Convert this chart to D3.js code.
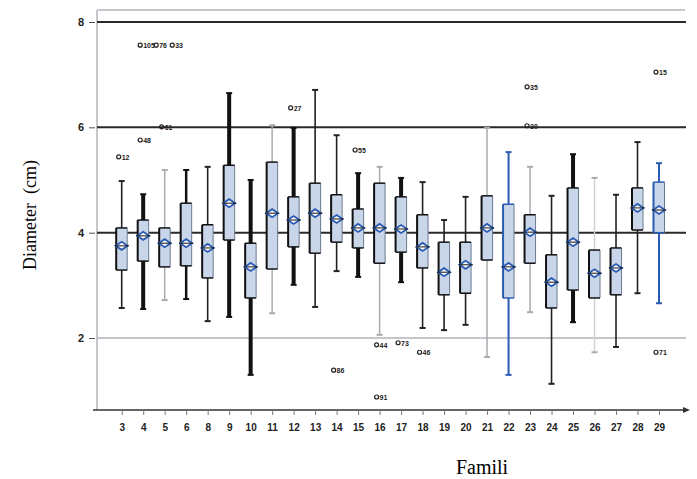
<!DOCTYPE html>
<html><head><meta charset="utf-8">
<script src="https://cdn.jsdelivr.net/npm/d3@7/dist/d3.min.js"></script>
<style>body{margin:0;background:#fff}svg{display:block}</style>
</head><body><svg id="c" width="697" height="479"></svg>
<script>
const categories = ["3","4","5","6","8","9","10","11","12","13","14","15","16","17","18","19","20","21","22","23","24","25","26","27","28","29"];
const whiskerTop = [4.98,4.73,5.19,5.19,5.25,6.65,5.00,6.04,5.99,6.71,5.85,5.13,5.25,5.04,4.96,4.24,4.68,5.99,5.53,5.25,4.70,5.49,5.04,4.72,5.72,5.32];
const q3 =         [4.09,4.24,4.09,4.56,4.15,5.28,3.80,5.34,4.68,4.94,4.72,4.45,4.94,4.68,4.34,3.82,3.82,4.70,4.54,4.34,3.58,4.85,3.67,3.71,4.85,4.96];
const medians =    [3.75,3.94,3.80,3.80,3.71,4.56,3.35,4.37,4.24,4.37,4.26,4.09,4.09,4.07,3.73,3.25,3.39,4.09,3.35,4.01,3.06,3.82,3.23,3.33,4.47,4.43];
const q1 =         [3.29,3.46,3.35,3.37,3.14,3.86,2.76,3.31,3.73,3.61,3.82,3.71,3.42,3.63,3.33,2.82,2.85,3.48,2.76,3.42,2.57,2.91,2.76,2.82,4.05,4.00];
const whiskerBot = [2.57,2.55,2.72,2.74,2.32,2.40,1.30,2.47,3.01,2.59,3.27,3.16,2.06,3.06,2.19,2.15,2.25,1.64,1.30,2.49,1.13,2.30,1.73,1.83,2.85,2.66];
// outliers: [category index, value, case label]
const outlierCat =   [0,1,1,1,1,2,8,10,11,12,12,13,14,19,19,25,25];
const outlierVal =   [5.44,5.76,7.56,7.56,7.56,6.01,6.37,1.39,5.57,1.87,0.88,1.91,1.73,6.77,6.03,7.05,1.73];
const outlierLabel = ["12","48","105","76","33","61","27","86","55","44","91","73","46","35","30","15","71"];
const yTicks = [2,4,6,8];
// whisker drawing kind per category (style key)
const whiskerKind = ["black","thick","gray","med","black","thick","thick","gray","thick","black","black","thick","gray","thick","black","black","black","gray","blue","gray","black","thick","light","black","black","blue"];

const svg = d3.select("#c");
const x = d3.scalePoint().domain(categories).range([121.7,659]);
const y = d3.scaleLinear().domain([0.633,8.228]).range([410,10]);

// frame
svg.append("line").attr("x1",97).attr("x2",685).attr("y1",10).attr("y2",10).attr("stroke","#c4c8cc").attr("stroke-width",2);
svg.append("line").attr("x1",97).attr("x2",97).attr("y1",10).attr("y2",410).attr("stroke","#c4c8cc").attr("stroke-width",2);

// gridlines
yTicks.forEach(t=>{
  svg.append("line").attr("x1",97).attr("x2",686).attr("y1",y(t)).attr("y2",y(t))
    .attr("stroke", t===2 ? "#b0b4b8" : "#2a2a2a").attr("stroke-width", t===2?1.5:2);
});

// y axis ticks & labels
const yAxis = d3.axisLeft(y).tickValues(yTicks).tickSize(6).tickFormat(d3.format("d"));
const gy = svg.append("g").attr("transform","translate(95,0)").call(yAxis);
gy.select(".domain").remove();
gy.selectAll(".tick line").attr("stroke","#555");
gy.selectAll(".tick text").attr("font-family","Arial, Liberation Sans, sans-serif").attr("font-size",11).attr("font-weight","bold").attr("fill","#222").attr("x",-11);

// x axis
const xAxis = d3.axisBottom(x).tickSize(5).tickPadding(9);
const gx = svg.append("g").attr("transform","translate(0,410)").call(xAxis);
gx.select(".domain").attr("d","M93,0H688").attr("stroke","#333").attr("stroke-width",1.5);
gx.selectAll(".tick line").attr("stroke","#777");
gx.selectAll(".tick text").attr("font-family","Arial, Liberation Sans, sans-serif").attr("font-size",10).attr("font-weight","bold").attr("fill","#222");
svg.append("path").attr("d","M683,407L690,410L683,413Z").attr("fill","#333");

const kindStyle = {
  thick:{c:"#111",w:4},
  med:{c:"#111",w:2.5},
  black:{c:"#222",w:1.6},
  gray:{c:"#a8acb0",w:1.5},
  light:{c:"#d0d4d8",w:1.5},
  blue:{c:"#2a5cb3",w:2}
};
const bw = 11;

categories.forEach((c,i)=>{
  const cx = x(c);
  const st = kindStyle[whiskerKind[i]];
  const g = svg.append("g");
  g.append("line").attr("x1",cx).attr("x2",cx).attr("y1",y(whiskerTop[i])).attr("y2",y(q3[i])).attr("stroke",st.c).attr("stroke-width",st.w);
  g.append("line").attr("x1",cx).attr("x2",cx).attr("y1",y(q1[i])).attr("y2",y(whiskerBot[i])).attr("stroke",st.c).attr("stroke-width",st.w);
  [whiskerTop[i],whiskerBot[i]].forEach(v=>{
    g.append("line").attr("x1",cx-3).attr("x2",cx+3).attr("y1",y(v)).attr("y2",y(v)).attr("stroke",st.c==="#d0d4d8"?"#a8acb0":st.c).attr("stroke-width",2);
  });
  g.append("rect").attr("x",cx-bw/2).attr("y",y(q3[i])).attr("width",bw).attr("height",y(q1[i])-y(q3[i]))
    .attr("fill","#c9d5e8").attr("stroke","none");
  const edge = whiskerKind[i]==="blue" ? "#2a5cb3" : "#111";
  g.append("line").attr("x1",cx-bw/2).attr("x2",cx-bw/2).attr("y1",y(q3[i])).attr("y2",y(q1[i])).attr("stroke",edge).attr("stroke-width",2);
  g.append("line").attr("x1",cx+bw/2).attr("x2",cx+bw/2).attr("y1",y(q3[i])).attr("y2",y(q1[i])).attr("stroke","#6b7a90").attr("stroke-width",1);
  g.append("line").attr("x1",cx-bw/2).attr("x2",cx+bw/2).attr("y1",y(q3[i])).attr("y2",y(q3[i])).attr("stroke",edge).attr("stroke-width",1.5);
  g.append("line").attr("x1",cx-bw/2).attr("x2",cx+bw/2).attr("y1",y(q1[i])).attr("y2",y(q1[i])).attr("stroke",edge).attr("stroke-width",1.5);
  const my = y(medians[i]);
  g.append("path").attr("d",`M${cx-6},${my}L${cx},${my-4}L${cx+6},${my}L${cx},${my+4}Z`)
    .attr("fill","#fff").attr("stroke","#2a5cb3").attr("stroke-width",1.8);
  g.append("line").attr("x1",cx-7).attr("x2",cx+7).attr("y1",my).attr("y2",my).attr("stroke","#111").attr("stroke-width",1);
});

// outliers
outlierCat.forEach((ci,k)=>{
  const cx = x(categories[ci]);
  const cy = y(outlierVal[k]);
  const same = outlierCat.filter((c2,j)=>j<k && c2===ci && outlierVal[j]===outlierVal[k]).length;
  const ox = cx - 3 + same*16;
  svg.append("circle").attr("cx",ox).attr("cy",cy).attr("r",2).attr("fill","none").attr("stroke","#222").attr("stroke-width",1.2);
  svg.append("text").attr("x",ox+3).attr("y",cy+3).attr("font-family","Arial, sans-serif").attr("font-size",7).attr("font-weight","bold").attr("fill","#222").text(outlierLabel[k]);
});

svg.append("text").attr("transform","translate(36,215) rotate(-90)").attr("text-anchor","middle")
  .attr("font-family","Liberation Serif, Times New Roman, serif").attr("font-size",18).attr("fill","#000").attr("xml:space","preserve").text("Diameter  (cm)");
svg.append("text").attr("x",482).attr("y",474).attr("text-anchor","middle")
  .attr("font-family","Liberation Serif, Times New Roman, serif").attr("font-size",20).attr("fill","#000").text("Famili");
</script></body></html>
